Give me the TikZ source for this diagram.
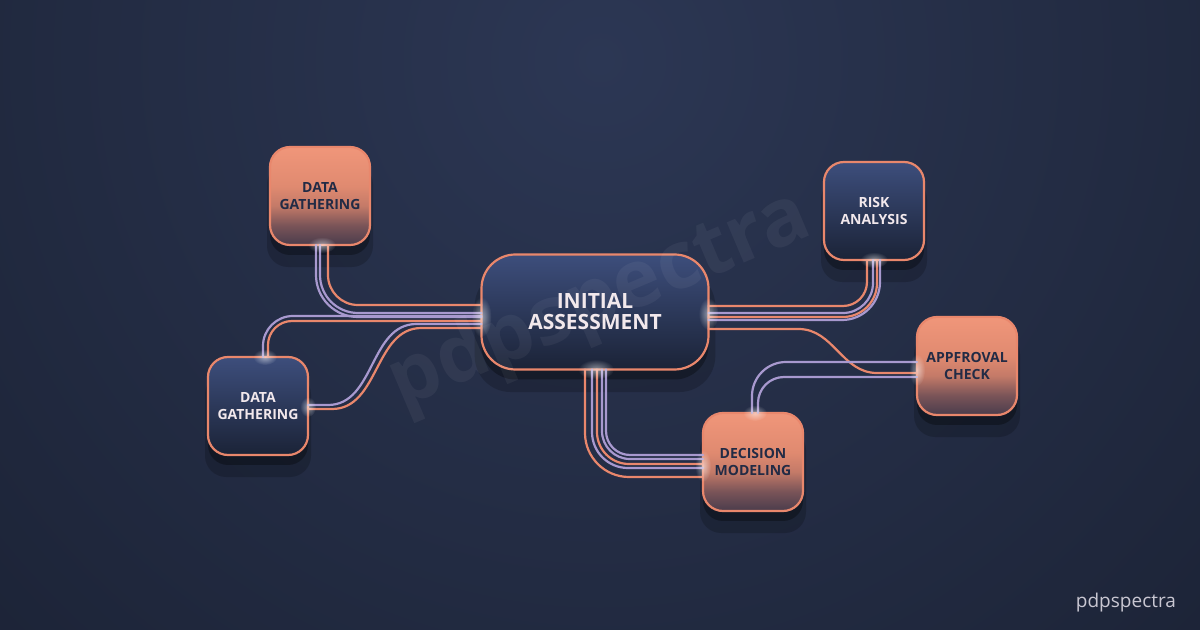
\documentclass[tikz,border=0pt]{standalone}
\usepackage{fontspec}
\setmainfont{Open Sans}
\usetikzlibrary{calc,shadows,fadings}
\definecolor{bgdark}{HTML}{121724}
\definecolor{bglight}{HTML}{2C3754}
\definecolor{edge}{HTML}{E9876C}
\definecolor{lav}{HTML}{A899CF}
\definecolor{ntop}{HTML}{3D4E7C}
\definecolor{nbot}{HTML}{1B2337}
\definecolor{oA}{HTML}{F0967A}
\definecolor{oB}{HTML}{E08A70}
\definecolor{oC}{HTML}{C47A68}
\definecolor{oD}{HTML}{7A5458}
\definecolor{oE}{HTML}{4A3C4C}
\definecolor{darktext}{HTML}{222B45}
\definecolor{lighttext}{HTML}{F2E8EC}
\definecolor{brandgray}{HTML}{C9C7D2}
\pgfdeclareverticalshading{orangeshade}{100bp}{color(0bp)=(oE); color(25bp)=(oE); color(35bp)=(oD); color(45bp)=(oC); color(55bp)=(oB); color(75bp)=(oA); color(100bp)=(oA)}
\tikzfading[name=glowfade, inner color=transparent!0, outer color=transparent!100]
\tikzset{
  box/.style={rounded corners=10pt, minimum width=50pt, minimum height=49pt, draw=edge, line width=1.1pt,
    align=center, font=\bfseries\fontsize{7}{8.2}\selectfont, inner sep=0pt, outer sep=0pt,
    drop shadow={shadow xshift=0pt, shadow yshift=-9pt, shadow scale=1.06, opacity=0.18, fill=black},
    drop shadow={shadow xshift=0pt, shadow yshift=-5pt, opacity=0.3, fill=black}},
  darkbox/.style={box, top color=ntop, bottom color=nbot, text=lighttext},
  orangebox/.style={box, shading=orangeshade, text=darktext},
  bigbox/.style={darkbox, minimum width=113.5pt, minimum height=57.5pt, rounded corners=17pt,
    font=\bfseries\fontsize{10.5}{10.5}\selectfont},
  conn/.style={line width=1.1pt, line cap=round},
  oline/.style={conn, draw=edge},
  lline/.style={conn, draw=lav},
  glow/.style={white, opacity=0.5, path fading=glowfade}
}
\begin{document}
\begin{tikzpicture}[x=0.5pt, y=-0.5pt]
\useasboundingbox (0,0) rectangle (1200,630);
\fill[bgdark] (0,0) rectangle (1200,630);
\begin{scope}
  \clip (0,0) rectangle (1200,630);
  \shade[inner color=bglight, outer color=bgdark] (600,60) circle (700pt);
\end{scope}

% nodes
\node[orangebox] (dg1) at (320,196) {DATA\\GATHERING};
\node[darkbox] (dg2) at (258,406) {DATA\\GATHERING};
\node[bigbox] (ia) at (595,312) {INITIAL\\ASSESSMENT};
\node[darkbox] (ra) at (874,211) {RISK\\ANALYSIS};
\node[orangebox] (ac) at (967,366) {APPFROVAL\\CHECK};
\node[orangebox] (dm) at (753,462) {DECISION\\MODELING};

% dg1 -> ia
\draw[oline, rounded corners=15pt] ($(dg1.south)+(8,0)$) |- ($(ia.west)+(0,-7)$);
\draw[lline, rounded corners=19pt] ($(dg1.south)+(0,0)$) |- ($(ia.west)+(0,1)$);
\draw[lline, rounded corners=21pt] ($(dg1.south)+(-4,0)$) |- ($(ia.west)+(0,5)$);
% dg2 top -> ia
\draw[lline, rounded corners=15pt] ($(dg2.north)+(5,0)$) |- ($(ia.west)+(0,4)$);
\draw[oline, rounded corners=12pt] ($(dg2.north)+(10,0)$) |- ($(ia.west)+(0,9)$);
% dg2 right -> ia
\draw[lline] ($(dg2.east)+(0,-1)$) -- ++(20,0) to[out=0,in=180] ($(ia.west)+(-65,12)$) -- ($(ia.west)+(0,12)$);
\draw[oline] ($(dg2.east)+(0,3)$) -- ++(24,0) to[out=0,in=180] ($(ia.west)+(-60,16)$) -- ($(ia.west)+(0,16)$);
% ia -> ra
\draw[oline, rounded corners=12pt] ($(ia.east)+(0,-6)$) -| ($(ra.south)+(-7,0)$);
\draw[lline, rounded corners=15pt] ($(ia.east)+(0,1)$) -| ($(ra.south)+(-1,0)$);
\draw[oline, rounded corners=17pt] ($(ia.east)+(0,5)$) -| ($(ra.south)+(3,0)$);
\draw[lline, rounded corners=19pt] ($(ia.east)+(0,8)$) -| ($(ra.south)+(6,0)$);
% ia -> ac
\draw[oline] ($(ia.east)+(0,17)$) -- ++(90,0) to[out=0,in=180] ($(ac.west)+(-40,7)$) -- ($(ac.west)+(0,7)$);
% dm -> ac
\draw[lline, rounded corners=17pt] ($(dm.north)+(-1,0)$) |- ($(ac.west)+(0,-4)$);
\draw[lline, rounded corners=13pt] ($(dm.north)+(5,0)$) |- ($(ac.west)+(0,11)$);
% ia -> dm
\draw[oline, rounded corners=22pt] ($(ia.south)+(-10,0)$) |- ($(dm.west)+(0,15)$);
\draw[lline, rounded corners=18pt] ($(ia.south)+(-3,0)$) |- ($(dm.west)+(0,6)$);
\draw[oline, rounded corners=16pt] ($(ia.south)+(2,0)$) |- ($(dm.west)+(0,2)$);
\draw[lline, rounded corners=14pt] ($(ia.south)+(7,0)$) |- ($(dm.west)+(0,-3)$);
\draw[lline, rounded corners=12pt] ($(ia.south)+(11,0)$) |- ($(dm.west)+(0,-7)$);

% glows
\fill[glow] ($(ia.west)+(0,5)$) ellipse (5pt and 10pt);
\fill[glow] ($(ia.east)+(0,2)$) ellipse (5pt and 8pt);
\fill[glow] ($(ia.south)+(1,0)$) ellipse (9pt and 5pt);
\fill[glow] ($(dg1.south)+(2,0)$) ellipse (7pt and 4pt);
\fill[glow] ($(dg2.north)+(7,0)$) ellipse (6pt and 4pt);
\fill[glow] ($(dg2.east)+(0,1)$) ellipse (4pt and 5pt);
\fill[glow] ($(ra.south)+(0,0)$) ellipse (7pt and 4pt);
\fill[glow] ($(ac.west)+(0,4)$) ellipse (4pt and 8pt);
\fill[glow] ($(dm.north)+(2,0)$) ellipse (6pt and 4pt);
\fill[glow] ($(dm.west)+(0,4)$) ellipse (4pt and 8pt);

% watermark and brand
\node[rotate=23, font=\bfseries\fontsize{40}{40}\selectfont, text=white, opacity=0.05] (wm) at (600,302) {pdpspectra};
\node[font=\fontsize{9.5}{10}\selectfont, text=brandgray, anchor=east] (brand) at (1183,603) {pdpspectra};
\end{tikzpicture}
\end{document}
